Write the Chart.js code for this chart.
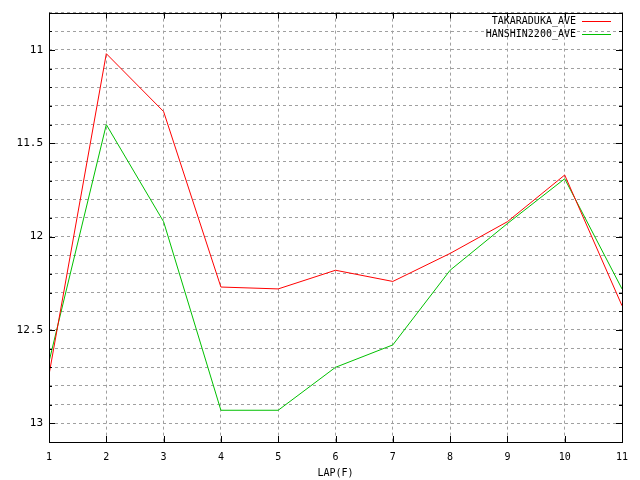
<!DOCTYPE html>
<html><head><meta charset="utf-8">
<script src="https://cdn.jsdelivr.net/npm/chart.js@4"></script>
<style>html,body{margin:0;padding:0;background:#fff}#wrap{width:640px;height:480px}</style>
</head><body><div id="wrap"><canvas id="c" width="640" height="480"></canvas></div>
<script>
const laps = [1,2,3,4,5,6,7,8,9,10,11];
const takaraduka = [12.74,11.02,11.33,12.27,12.28,12.18,12.24,12.09,11.92,11.67,12.37];
const hanshin2200 = [12.67,11.40,11.92,12.93,12.93,12.70,12.58,12.18,11.93,11.69,12.28];
const seriesNames = ["TAKARADUKA_AVE","HANSHIN2200_AVE"];
const seriesColors = ["#ff0000","#00c000"];
const xTitle = "LAP(F)";
const FONT = "'DejaVu Sans Mono', monospace";

const borderTicks = {
  id:'borderTicks',
  afterDatasetsDraw(chart){
    const ctx = chart.ctx, a = chart.chartArea, xs = chart.scales.x, ys = chart.scales.y;
    ctx.save();
    ctx.strokeStyle = '#000'; ctx.lineWidth = 1; ctx.setLineDash([]);
    ctx.beginPath();
    ys.ticks.forEach(t=>{
      const y = Math.round(ys.getPixelForValue(t.value))+0.5;
      const major = Math.abs(t.value*2-Math.round(t.value*2))<1e-6;
      const L = major?6:3;
      ctx.moveTo(a.left,y); ctx.lineTo(a.left+L,y);
      ctx.moveTo(a.right,y); ctx.lineTo(a.right-L,y);
    });
    xs.ticks.forEach(t=>{
      const x = Math.round(xs.getPixelForValue(t.value))+0.5;
      ctx.moveTo(x,a.bottom); ctx.lineTo(x,a.bottom-6);
      ctx.moveTo(x,a.top); ctx.lineTo(x,a.top+6);
    });
    ctx.stroke();
    ctx.strokeRect(Math.round(a.left)+0.5,Math.round(a.top)+0.5,Math.round(a.right-a.left),Math.round(a.bottom-a.top));
    // legend
    ctx.font = "10px " + FONT;
    ctx.textAlign='right'; ctx.textBaseline='middle'; ctx.fillStyle='#000';
    const rows=[21,34];
    seriesNames.forEach((n,i)=>{
      ctx.fillText(n,576,rows[i]);
      ctx.strokeStyle=seriesColors[i];
      ctx.beginPath(); ctx.moveTo(582,rows[i]+0.5); ctx.lineTo(611,rows[i]+0.5); ctx.stroke();
    });
    ctx.restore();
  }
};

new Chart(document.getElementById('c'),{
  type:'line',
  data:{
    labels:laps,
    datasets:[
      {label:seriesNames[0],data:laps.map((x,i)=>({x,y:takaraduka[i]})),borderColor:seriesColors[0],borderWidth:1,pointRadius:0,tension:0,fill:false},
      {label:seriesNames[1],data:laps.map((x,i)=>({x,y:hanshin2200[i]})),borderColor:seriesColors[1],borderWidth:1,pointRadius:0,tension:0,fill:false}
    ]
  },
  options:{
    responsive:false,animation:false,
    layout:{padding:{top:11,right:18,left:0,bottom:0}},
    plugins:{legend:{display:false},tooltip:{enabled:false}},
    scales:{
      x:{type:'linear',min:1,max:11,
        ticks:{stepSize:1,font:{family:FONT,size:10},color:'#000',padding:9,maxRotation:0},
        grid:{color:'#a0a0a0',drawTicks:false,tickLength:0},
        border:{display:false,color:'#000',width:1,dash:[3,3]},
        title:{display:true,text:xTitle,font:{family:FONT,size:10},color:'#000',padding:{top:0,bottom:1}},
        afterFit(s){s.height=38;}
      },
      y:{reverse:true,min:10.8,max:13.1,
        ticks:{stepSize:0.1,font:{family:FONT,size:11},color:'#000',padding:6,autoSkip:false,
          callback(v){const r=Math.round(v*10)/10; return Math.abs(r*2-Math.round(r*2))<1e-6 && r>10.85 ? String(r) : '';}},
        grid:{color:'#a0a0a0',drawTicks:false,tickLength:0},
        border:{display:false,color:'#000',width:1,dash:[3,3]},
        afterFit(s){s.width=49;}
      }
    }
  },
  plugins:[borderTicks]
});
</script></body></html>
